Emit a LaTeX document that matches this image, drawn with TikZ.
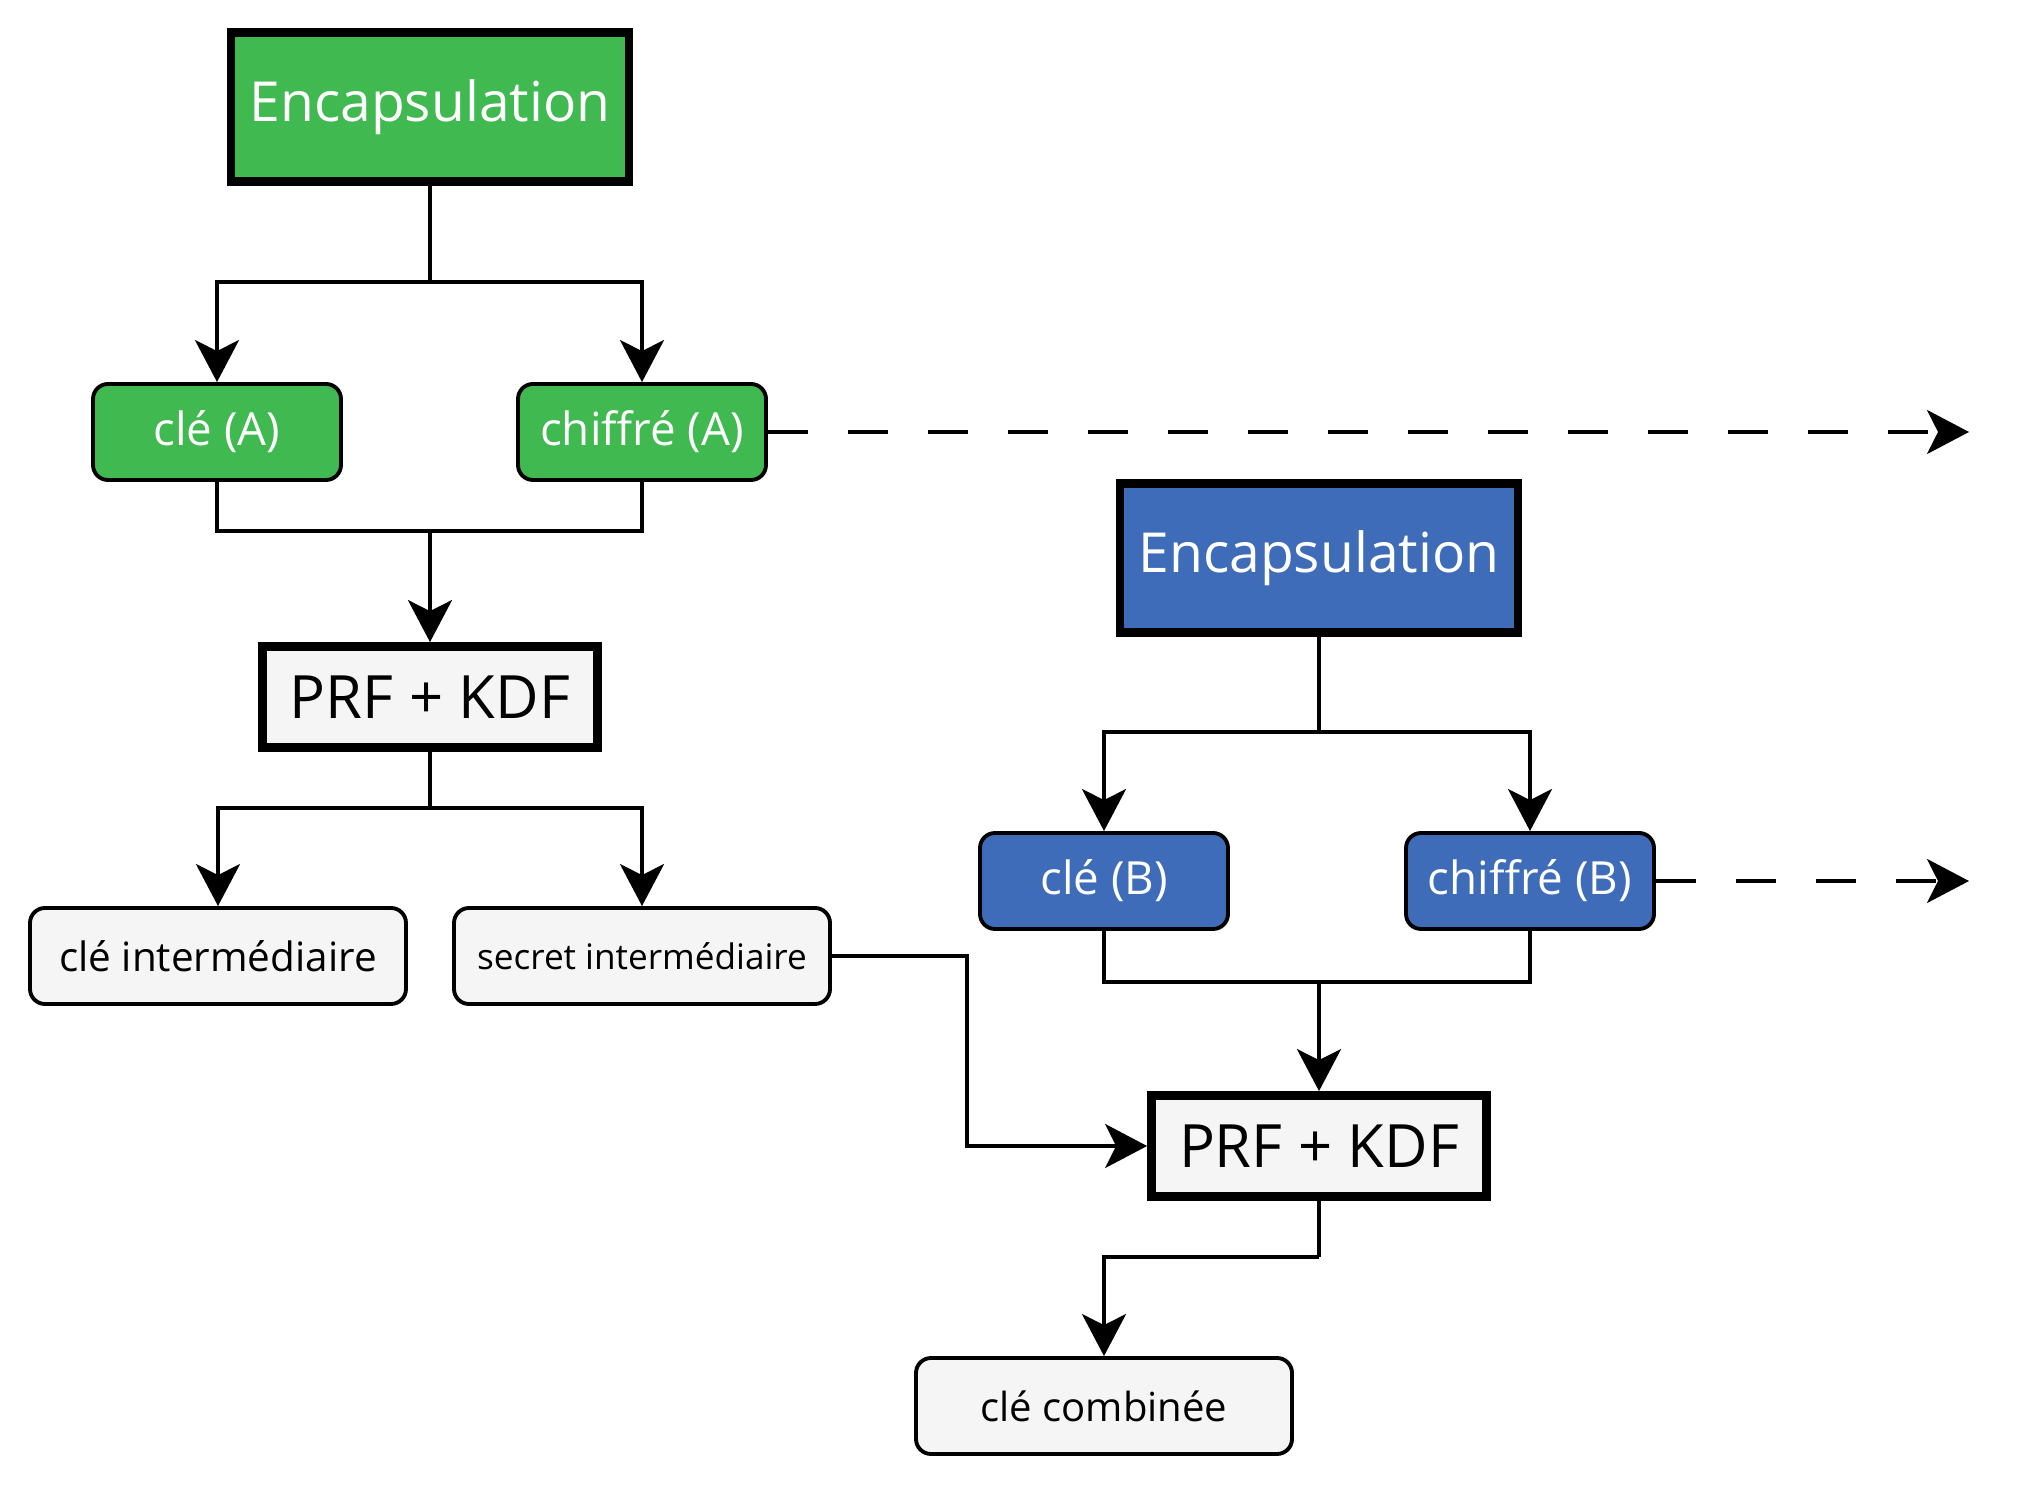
\documentclass[tikz,border=0pt]{standalone}
\usepackage{fontspec}
\setmainfont{Open Sans}
\usetikzlibrary{arrows.meta}
\definecolor{encgreen}{RGB}{64,185,80}
\definecolor{encblue}{RGB}{63,108,185}
\definecolor{boxgray}{RGB}{245,245,245}

\begin{document}
\begin{tikzpicture}[
    encbox/.style={draw,line width=2.5pt,minimum width=3.98cm,minimum height=1.49cm,
      text=white,font=\fontsize{15.7}{19}\selectfont},
    prfbox/.style={draw,line width=2.5pt,fill=boxgray,minimum width=3.35cm,
      minimum height=1.01cm,font=\fontsize{17}{20}\selectfont},
    keybox/.style={draw,line width=1.1pt,rounded corners=0.15cm,minimum width=2.48cm,
      minimum height=0.96cm,text=white,font=\fontsize{13}{15}\selectfont},
    outbox/.style={draw,line width=1.1pt,rounded corners=0.15cm,fill=boxgray,
      minimum width=3.76cm,minimum height=0.96cm},
    wire/.style={line width=1pt},
    link/.style={wire,-{Stealth[length=0.42cm,width=0.44cm,inset=0.11cm]}},
    sent/.style={link,dash pattern=on 0.4cm off 0.4cm}
  ]
    \useasboundingbox (0,0) rectangle (20.35,-14.85);

    % first encapsulation (A)
    \node[encbox,fill=encgreen] (encA) at (4.30,-1.07) {Encapsulation};
    \node[keybox,fill=encgreen] (cleA) at (2.17,-4.32) {clé (A)};
    \node[keybox,fill=encgreen] (chiA) at (6.42,-4.32) {chiffré (A)};
    \node[prfbox] (prfA) at (4.30,-6.97) {PRF + KDF};
    \node[outbox,font=\fontsize{11.5}{14}\selectfont] (cleInt) at (2.18,-9.56) {clé intermédiaire};
    \node[outbox,font=\fontsize{10}{12}\selectfont] (secInt) at (6.42,-9.56) {secret intermédiaire};

    % second encapsulation (B)
    \node[encbox,fill=encblue] (encB) at (13.19,-5.58) {Encapsulation};
    \node[keybox,fill=encblue] (cleB) at (11.04,-8.81) {clé (B)};
    \node[keybox,fill=encblue] (chiB) at (15.30,-8.81) {chiffré (B)};
    \node[prfbox] (prfB) at (13.19,-11.46) {PRF + KDF};
    \node[outbox,font=\fontsize{11.4}{14}\selectfont] (comb) at (11.04,-14.06) {clé combinée};

    % junction points
    \coordinate (jA) at (4.30,-2.82);
    \coordinate (mA) at (4.30,-5.31);
    \coordinate (sA) at (4.30,-8.08);
    \coordinate (jB) at (13.19,-7.32);
    \coordinate (mB) at (13.19,-9.82);
    \coordinate (sB) at (13.19,-12.57);
    \coordinate (bend) at (9.67,0);
    \coordinate (outA) at (19.69,-4.32);
    \coordinate (outB) at (19.69,-8.81);

    % the splits and merges
    \foreach \s in {A,B} {
      \draw[wire] (enc\s.south) -- (j\s);
      \draw[link] (j\s) -| (cle\s.north);
      \draw[link] (j\s) -| (chi\s.north);
      \draw[wire] (cle\s.south) |- (m\s) -| (chi\s.south);
      \draw[link] (m\s) -- (prf\s.north);
    }
    \draw[wire] (prfA.south) -- (sA);
    \draw[link] (sA) -| (cleInt.north);
    \draw[link] (sA) -| (secInt.north);
    \draw[wire] (prfB.south) -- (sB);
    \draw[link] (sB) -| (comb.north);

    % the secret goes into the second PRF
    \draw[link] (secInt.east) -| (bend |- prfB.west) -- (prfB.west);

    % the dashed outputs
    \draw[sent] (chiA.east) -- (outA);
    \draw[sent] (chiB.east) -- (outB);
  \end{tikzpicture}
\end{document}
